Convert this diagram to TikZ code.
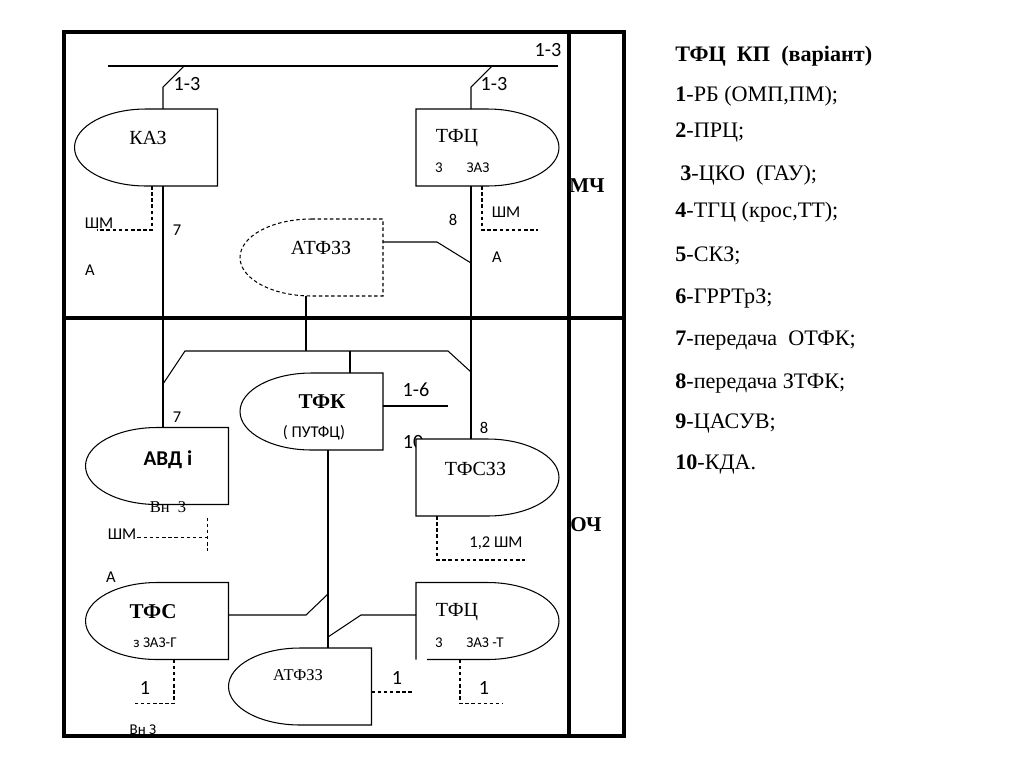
\documentclass[tikz,border=0pt]{standalone}
\usepackage{fontspec}
\setmainfont{Liberation Serif}
\newfontfamily\calfont{Carlito}
\usetikzlibrary{calc}

\tikzset{
  blockbox/.style={minimum width=2.86cm,minimum height=1.54cm,inner sep=0pt,outer sep=0pt},
  blkline/.style={line width=0.6pt,fill=white},
  conn/.style={line width=0.6pt},
  shmline/.style={line width=0.6pt,dash pattern=on 2pt off 1.5pt},
  framel/.style={line width=2.2pt},
  numlbl/.style={font=\calfont\fontsize{11.5}{13}\selectfont,inner sep=0pt},
  smlbl/.style={font=\calfont\fontsize{9.4}{11}\selectfont,inner sep=0pt},
  tinylbl/.style={font=\calfont\fontsize{8.5}{10}\selectfont,inner sep=0pt},
  bsanslbl/.style={font=\calfont\bfseries\fontsize{12}{14}\selectfont,inner sep=0pt},
  namelbl/.style={font=\fontsize{11.4}{13}\selectfont,inner sep=0pt},
  lightlbl/.style={font=\fontsize{9.4}{11}\selectfont,inner sep=0pt},
  boldlbl/.style={font=\bfseries\fontsize{12}{14}\selectfont,inner sep=0pt},
  leglbl/.style={font=\fontsize{12.6}{14}\selectfont,anchor=base west,inner sep=0pt}
}

% half-ellipse on the left / on the right of a named box
\newcommand{\leftblk}[2][]{\draw[blkline,#1] (#2.north) -- (#2.north east) -- (#2.south east) -- (#2.south) arc[start angle=270,end angle=90,x radius=1.43cm,y radius=0.77cm] -- cycle;}
\newcommand{\rightblk}[2][]{\draw[blkline,#1] (#2.north) -- (#2.north west) -- (#2.south west) -- (#2.south) arc[start angle=-90,end angle=90,x radius=1.43cm,y radius=0.77cm] -- cycle;}

\begin{document}
\begin{tikzpicture}[x=0.02cm,y=-0.02cm]
  \useasboundingbox (0,0) rectangle (1024,768);

  % frame
  \draw[framel] (64,32) rectangle (624,736);
  \draw[framel] (569,32) -- (569,736);
  \draw[framel] (64,318) -- (624,318);

  % blocks
  \node[blockbox] (kaz) at (146,147.5) {};
  \node[blockbox] (tfcm) at (487.5,147.5) {};
  \node[blockbox] (atfm) at (311.5,257.5) {};
  \node[blockbox] (tfk) at (311.5,411.5) {};
  \node[blockbox] (avd) at (157,466) {};
  \node[blockbox] (tfszz) at (487.5,477.5) {};
  \node[blockbox] (tfso) at (157,621) {};
  \node[blockbox] (tfco) at (487.5,621) {};
  \node[blockbox] (atfo) at (300,686.5) {};

  \node[numlbl] (n10) at (413,442) {10};

  \leftblk{kaz}
  \rightblk{tfcm}
  \leftblk[shmline]{atfm}
  \leftblk{tfk}
  \leftblk{avd}
  \rightblk{tfszz}
  \leftblk{tfso}
  \leftblk{atfo}
  \draw[blkline] (tfco.south west) -- (tfco.north west) -- (tfco.north) arc[start angle=90,end angle=-90,x radius=1.43cm,y radius=0.77cm] -- ($(tfco.south west)+(11,0)$);

  % connections
  \coordinate (busL) at (108,66);
  \coordinate (busR) at (558,66);
  \coordinate (t1) at (184,66);
  \coordinate (t2) at (492,66);
  \coordinate (l7) at (163,384);
  \coordinate (l8) at (471,372);
  \coordinate (b1) at (185,351);
  \coordinate (b2) at (448,351);
  \coordinate (b3) at (306,351);
  \coordinate (b4) at (350,351);
  \coordinate (a1) at (437,242);
  \coordinate (a2) at (471,263);
  \coordinate (c16) at (448,406);
  \coordinate (lk) at (328,637);
  \coordinate (s1) at (306,615);
  \coordinate (s2) at (328,594);
  \coordinate (c2) at (361,615);

  \draw[conn] (busL) -- (busR);
  \draw[conn] (kaz.north -| l7) -- ++(0,-22) -- (t1);
  \draw[conn] (tfcm.north -| l8) -- ++(0,-22) -- (t2);
  \draw[conn] (kaz.south -| l7) -- (avd.north -| l7);
  \draw[conn] (tfcm.south -| l8) -- (tfszz.north -| l8);
  \draw[conn] (l7) -- (b1) -- (b2) -- (l8);
  \draw[conn] (atfm.east |- a1) -- (a1) -- (a2);
  \draw[conn] (atfm.south -| b3) -- (b3);
  \draw[conn] (b4) -- (tfk.north -| b4);
  \draw[conn] (tfk.east |- c16) -- (c16);
  \draw[conn] (tfk.south -| lk) -- (atfo.north -| lk);
  \draw[conn] (tfso.east |- s1) -- (s1) -- (s2);
  \draw[conn] (tfco.west |- c2) -- (c2) -- (lk);

  % dashed
  \draw[shmline] ($(kaz.south)+(6,0)$) -- ++(0,44) -- ++(-55,0);
  \draw[shmline] ($(tfcm.south)+(-5.5,0)$) -- ++(0,44) -- ++(56,0);
  \draw[shmline] ($(avd.south east)+(-21,13)$) -- ++(0,33);
  \draw[shmline] ($(avd.south east)+(-91,33)$) -- ++(70,0);
  \draw[shmline] ($(tfszz.south west)+(21,0)$) -- ++(0,44) -- ++(88,0);
  \draw[shmline] ($(tfso.south)+(17,0)$) -- ++(0,44) -- ++(-41,0);
  \draw[shmline] ($(atfo.east)+(0,5.5)$) -- ++(41,0);
  \draw[shmline] ($(tfco.south west)+(44,0)$) -- ++(0,44) -- ++(43,0);

  % labels
  \node[numlbl] (n13a) at (187,84) {1-3};
  \node[numlbl] (n13b) at (494,84) {1-3};
  \node[numlbl] (n13c) at (548,50) {1-3};
  \node[namelbl] (kazT) at (148,138) {КАЗ};
  \node[namelbl] (tfcmT) at (457,138) {ТФЦ};
  \node[tinylbl] (tfcm3) at (439,168) {3};
  \node[tinylbl] (tfcmZ) at (478,168) {ЗАЗ};
  \node[smlbl] (shm1) at (99,223) {ШМ};
  \node[smlbl] (n7a) at (177,230) {7};
  \node[smlbl] (aa) at (90,270) {А};
  \node[smlbl] (shm2) at (506,212) {ШМ};
  \node[smlbl] (n8a) at (453,220) {8};
  \node[smlbl] (ab) at (497,257) {А};
  \node[namelbl] (atfmT) at (321,248) {АТФЗЗ};
  \node[boldlbl] (mch) at (587,186) {МЧ};
  \node[boldlbl] (tfkT) at (322,402) {ТФК};
  \node[smlbl] (tfkS) at (314,433) {( ПУТФЦ)};
  \node[numlbl] (n16) at (416,390) {1-6};
  \node[smlbl] (n7b) at (177,417) {7};
  \node[bsanslbl] (avdT) at (168,460) {АВД і};
  \node[lightlbl] (avdS) at (168,507) {Вн~~3};
  \node[smlbl] (shm3) at (122,534) {ШМ};
  \node[smlbl] (n8b) at (484,428) {8};
  \node[namelbl] (tfszzT) at (475.5,469) {ТФСЗЗ};
  \node[smlbl] (shm4) at (496,543) {1,2 ШМ};
  \node[boldlbl] (och) at (586,525) {ОЧ};
  \node[smlbl] (ac) at (111,577) {А};
  \node[boldlbl] (tfsoT) at (153,612) {ТФС};
  \node[tinylbl] (tfsoS) at (155,643) {з ЗАЗ-Г};
  \node[numlbl] (n1a) at (145,688) {1};
  \node[tinylbl] (vnz) at (143,730) {Вн З};
  \node[lightlbl] (atfoT) at (298,675) {АТФЗЗ};
  \node[namelbl] (tfcoT) at (457,612) {ТФЦ};
  \node[tinylbl] (tfco3) at (439,643) {3};
  \node[tinylbl] (tfcoZ) at (485,643) {ЗАЗ -Т};
  \node[numlbl] (n1b) at (397,678) {1};
  \node[numlbl] (n1c) at (484,688) {1};

  % legend
  \node[leglbl,font=\bfseries\fontsize{12.6}{14}\selectfont] (legT) at (675,61.5) {ТФЦ~~КП~~(варіант)};
  \foreach \x/\y/\n/\t in {675/101/1/{РБ (ОМП,ПМ);},675/137.5/2/{ПРЦ;},680/180/3/{ЦКО~~(ГАУ);},675/217.5/4/{ТГЦ (крос,ТТ);},675/261.5/5/{СКЗ;},675/303.5/6/{ГРРТрЗ;},675/345.5/7/{передача~~ОТФК;},675/388/8/{передача~ЗТФК;},675/428/9/{ЦАСУВ;},675/469/10/{КДА.}}
    {\node[leglbl] (leg\n) at (\x,\y) {\textbf{\n}-\t};}
\end{tikzpicture}
\end{document}
